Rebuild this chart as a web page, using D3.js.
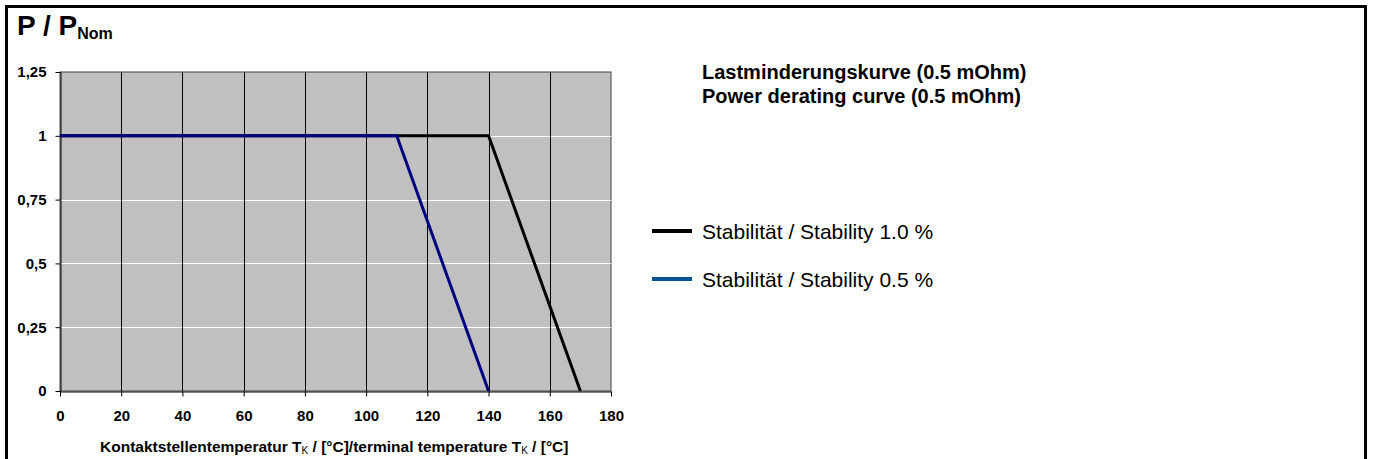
<!DOCTYPE html>
<html>
<head>
<meta charset="utf-8">
<script src="https://cdn.jsdelivr.net/npm/d3@7"></script>
<style>
  body { margin: 0; background: #fff; }
  svg { display: block; }
</style>
</head>
<body>
<div id="chart"></div>
<script>
// data
const xTicks = [0, 20, 40, 60, 80, 100, 120, 140, 160, 180];
const yTicks = [0, 0.25, 0.5, 0.75, 1, 1.25];
const yTickLabels = ["0", "0,25", "0,5", "0,75", "1", "1,25"];
const tempStable10 = [0, 140, 170];
const powerStable10 = [1, 1, 0];
const tempStable05 = [0, 110, 140];
const powerStable05 = [1, 1, 0];
const seriesNames = ["Stabilität / Stability 1.0 %", "Stabilität / Stability 0.5 %"];

const W = 1375, H = 459;
const plot = { left: 60, right: 611, top: 72, bottom: 391 };
const font = "'Liberation Sans', Arial, sans-serif";

const svg = d3.select("#chart").append("svg")
  .attr("width", W).attr("height", H);

// outer frame
svg.append("rect")
  .attr("x", 6.5).attr("y", 6.5)
  .attr("width", 1359).attr("height", H)
  .attr("fill", "none").attr("stroke", "#000").attr("stroke-width", 3);

const x = d3.scaleLinear().domain([0, 180]).range([plot.left, plot.right]);
const y = d3.scaleLinear().domain([0, 1.25]).range([plot.bottom, plot.top]);

// plot area
svg.append("rect")
  .attr("x", plot.left).attr("y", plot.top)
  .attr("width", plot.right - plot.left).attr("height", plot.bottom - plot.top)
  .attr("fill", "#c0c0c0").attr("stroke", "#444").attr("stroke-width", 1);

// horizontal grid (white)
svg.append("g").selectAll("line")
  .data(yTicks.filter(d => d > 0 && d < 1.25))
  .enter().append("line")
  .attr("x1", plot.left).attr("x2", plot.right)
  .attr("y1", d => Math.round(y(d)) + 0.5).attr("y2", d => Math.round(y(d)) + 0.5)
  .attr("stroke", "#fff").attr("stroke-width", 1);

// vertical grid (black)
svg.append("g").selectAll("line")
  .data(xTicks.filter(d => d > 0 && d < 180))
  .enter().append("line")
  .attr("y1", plot.top).attr("y2", plot.bottom)
  .attr("x1", d => Math.round(x(d)) + 0.5).attr("x2", d => Math.round(x(d)) + 0.5)
  .attr("stroke", "#000").attr("stroke-width", 1);

// axes
const xAxis = svg.append("g")
  .attr("transform", `translate(0,${plot.bottom + 0.5})`)
  .call(d3.axisBottom(x).tickValues(xTicks).tickSize(5).tickSizeOuter(0).tickPadding(14));
const yAxis = svg.append("g")
  .attr("transform", `translate(${plot.left + 0.5},0)`)
  .call(d3.axisLeft(y).tickValues(yTicks).tickSize(5).tickSizeOuter(0).tickPadding(9)
    .tickFormat((d, i) => yTickLabels[i]));

[xAxis, yAxis].forEach(a => {
  a.select(".domain").attr("stroke", "#000");
  a.selectAll(".tick line").attr("stroke", "#000");
  a.selectAll("text")
    .attr("font-family", font).attr("font-weight", "bold")
    .attr("font-size", "15px").attr("fill", "#000");
});

// lines
const line = d3.line().x(d => x(d[0])).y(d => y(d[1]));
svg.append("path")
  .datum(tempStable10.map((t, i) => [t, powerStable10[i]]))
  .attr("d", line).attr("fill", "none")
  .attr("stroke", "#000").attr("stroke-width", 3);
svg.append("path")
  .datum(tempStable05.map((t, i) => [t, powerStable05[i]]))
  .attr("d", line).attr("fill", "none")
  .attr("stroke", "#000080").attr("stroke-width", 3);

// axis title
const xt = svg.append("text")
  .attr("x", 100).attr("y", 452)
  .attr("font-family", font).attr("font-weight", "bold")
  .attr("font-size", "15.5px").attr("fill", "#000");
xt.append("tspan").text("Kontaktstellentemperatur T");
xt.append("tspan").attr("font-size", "10px").attr("font-weight", "normal").attr("dy", 2).text("K");
xt.append("tspan").attr("dy", -2).text(" / [°C]/terminal temperature T");
xt.append("tspan").attr("font-size", "10px").attr("font-weight", "normal").attr("dy", 2).text("K");
xt.append("tspan").attr("dy", -2).text(" / [°C]");

// y title
const yt = svg.append("text")
  .attr("x", 17).attr("y", 35)
  .attr("font-family", font).attr("font-weight", "bold")
  .attr("font-size", "28px");
yt.append("tspan").text("P / P");
yt.append("tspan").attr("font-size", "16px").attr("dy", 4).text("Nom");

// chart heading
svg.append("text").attr("x", 702).attr("y", 79)
  .attr("font-family", font).attr("font-weight", "bold").attr("font-size", "20px")
  .text("Lastminderungskurve (0.5 mOhm)");
svg.append("text").attr("x", 702).attr("y", 102.5)
  .attr("font-family", font).attr("font-weight", "bold").attr("font-size", "20px")
  .text("Power derating curve (0.5 mOhm)");

// legend
const legendColors = ["#000", "#005496"];
const legendY = [231, 279];
seriesNames.forEach((name, i) => {
  svg.append("line")
    .attr("x1", 652).attr("x2", 692)
    .attr("y1", legendY[i]).attr("y2", legendY[i])
    .attr("stroke", legendColors[i]).attr("stroke-width", 4);
  svg.append("text")
    .attr("x", 702).attr("y", legendY[i] + 8)
    .attr("font-family", font).attr("font-size", "21px")
    .text(name);
});
</script>
</body>
</html>
